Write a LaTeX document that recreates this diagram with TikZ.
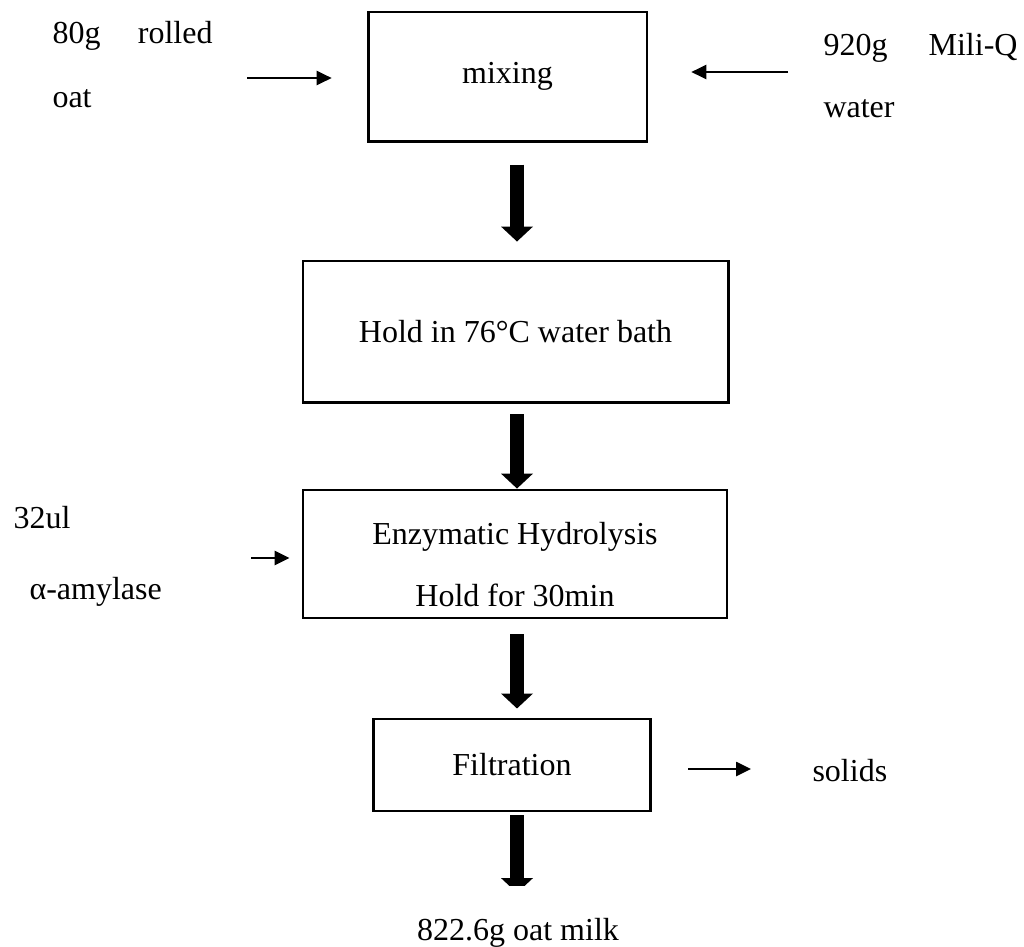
\documentclass[tikz,border=0pt]{standalone}
\usepackage{fontspec}
\setmainfont{Liberation Serif}
\usetikzlibrary{arrows.meta}

\begin{document}
\begin{tikzpicture}[x=0.375pt,y=-0.375pt,
        font=\fontsize{12}{24}\selectfont,
        stage/.style={rectangle,draw,line width=1.1pt,inner sep=0pt,align=center},
        txt/.style={inner sep=0pt},
        feed/.style={line width=0.75pt,-{Triangle[length=5.6pt,width=5.3pt]}},
        bigarrow/.style={line width=5.6pt,-{Triangle[length=5.6pt,width=12pt,line width=0pt]}}]
    \useasboundingbox (0,0) rectangle (1024,947);
    % process steps
    \node[stage,minimum width=104.6pt,minimum height=48.4pt] (mix) at (507.5,76.5) {mixing};
    \node[stage,minimum width=159.4pt,minimum height=52.9pt] (bath) at (515.5,331.5) {Hold in 76°C water bath};
    \node[stage,minimum width=159pt,minimum height=48pt] (hydro) at (515,554) {\rule{0pt}{16pt}Enzymatic Hydrolysis\\[-0.75pt]Hold for 30min};
    \node[stage,minimum width=104.2pt,minimum height=34.5pt] (filt) at (512,765) {Filtration};
    % inputs and outputs
    \node[txt,text width=60pt,anchor=north west] (oat) at (52,21) {80g\hfill rolled\\oat};
    \node[txt,text width=72.75pt,anchor=north west,font=\fontsize{12}{23.25}\selectfont] (water) at (823,33) {920g\hfill Mili-Q\\water};
    \node[txt,anchor=base west] (enzamt) at (13,528) {32ul};
    \node[txt,anchor=base west] (enzname) at (29,599) {α-amylase};
    \node[txt,anchor=base west] (solids) at (812,781) {solids};
    \node[txt,anchor=base] (milk) at (518,940) {822.6g oat milk};
    \coordinate (spine) at (517,0);
    \coordinate (milkend) at (517,893);
    \coordinate (oatin) at (247,78);
    \coordinate (waterin) at (788,72);
    \coordinate (enzin) at (251,558);
    \coordinate (solidsout) at (751,769);
    \draw[bigarrow,shorten <=8.25pt,shorten >=6.75pt] (mix.south -| spine) -- (bath.north -| spine);
    \draw[bigarrow,shorten <=4.1pt] (bath.south -| spine) -- (hydro.north -| spine);
    \draw[bigarrow,shorten <=5.6pt,shorten >=3.4pt] (hydro.south -| spine) -- (filt.north -| spine);
    \begin{scope}
        \clip (0,0) rectangle (1024,885);
        \draw[bigarrow,shorten <=1.1pt] (filt.south -| spine) -- (milkend);
    \end{scope}
    \draw[feed,shorten >=13.1pt] (oatin) -- (oatin -| mix.west);
    \draw[feed,shorten >=16.1pt] (waterin) -- (waterin -| mix.east);
    \draw[feed,shorten >=4.5pt] (enzin) -- (enzin -| hydro.west);
    \draw[feed,shorten <=13.5pt] (solidsout -| filt.east) -- (solidsout);
\end{tikzpicture}
\end{document}
